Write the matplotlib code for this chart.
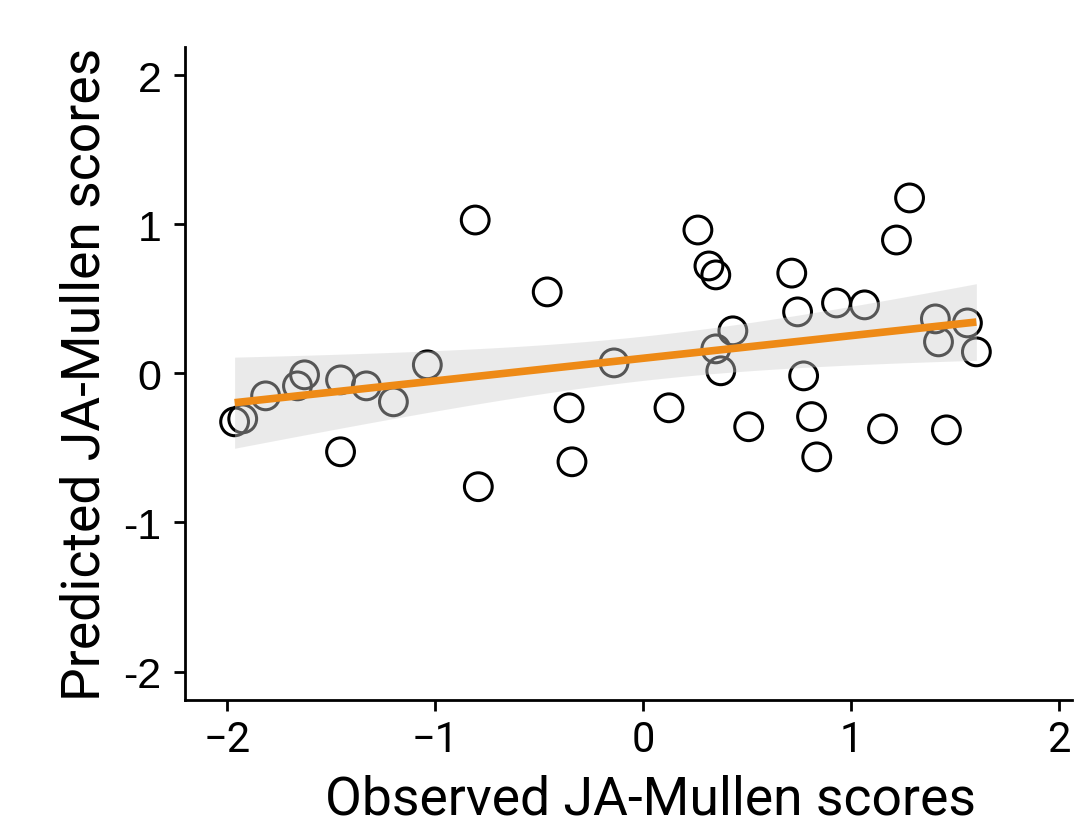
import numpy as np
import matplotlib
matplotlib.use('Agg')
from matplotlib import pyplot as plt

# Observed vs predicted JA-Mullen scores
observed = [-1.962, -1.923, -1.813, -1.626, -1.660, -1.453, -1.453, -1.329, -1.199, -1.036,
            -0.806, -0.791, -0.460, -0.355, -0.341, -0.139, 0.125, 0.264, 0.317, 0.350,
            0.350, 0.432, 0.374, 0.508, 0.715, 0.743, 0.772, 0.810, 0.835, 0.930,
            1.065, 1.151, 1.218, 1.281, 1.458, 1.405, 1.420, 1.559, 1.602]
predicted = [-0.325, -0.305, -0.151, -0.010, -0.084, -0.044, -0.526, -0.084, -0.191, 0.057,
             1.028, -0.760, 0.546, -0.231, -0.593, 0.070, -0.231, 0.961, 0.720, 0.660,
             0.164, 0.285, 0.017, -0.358, 0.672, 0.412, -0.017, -0.290, -0.560, 0.472,
             0.459, -0.372, 0.894, 1.176, -0.379, 0.365, 0.211, 0.338, 0.144]
ticks = [-2, -1, 0, 1, 2]

x = np.array(observed)
y = np.array(predicted)

# linear fit with 95% confidence band (like geom_smooth(method='lm'))
n = len(x)
slope, intercept = np.polyfit(x, y, 1)
resid = y - (slope * x + intercept)
s = np.sqrt(np.sum(resid ** 2) / (n - 2))
xx = np.linspace(x.min(), x.max(), 100)
yy = slope * xx + intercept
se = s * np.sqrt(1 / n + (xx - x.mean()) ** 2 / np.sum((x - x.mean()) ** 2))
tcrit = 2.026
lo, hi = yy - tcrit * se, yy + tcrit * se

fig = plt.figure(figsize=(10.76, 8.28), dpi=100)
ax = fig.add_axes([0.172, 0.1534, 0.824, 0.789])

ax.scatter(x, y, s=400, facecolors='none', edgecolors='black', linewidths=2.2, zorder=2)
ax.fill_between(xx, lo, hi, color='#CFCFCF', alpha=0.42, linewidth=0, zorder=3)
ax.plot(xx, yy, color='#EE8A16', linewidth=5.5, solid_capstyle='butt', zorder=4)

ax.set_xlim(-2.2, 2.06)
ax.set_ylim(-2.19, 2.19)
ax.set_xticks(ticks)
ax.set_xticklabels(['\u2212' + str(abs(t)) if t < 0 else str(t) for t in ticks],
                   family=['Roboto', 'DejaVu Sans'], fontsize=30)
ax.set_yticks(ticks)
ax.set_yticklabels([str(t) for t in ticks], family=['Liberation Sans', 'DejaVu Sans'], fontsize=31)

for side in ['top', 'right']:
    ax.spines[side].set_visible(False)
for side in ['left', 'bottom']:
    ax.spines[side].set_linewidth(2.0)
ax.tick_params(width=2.0, length=8, colors='black')
ax.tick_params(axis='x', pad=6)
ax.tick_params(axis='y', pad=9)

ax.set_xlabel('Observed JA-Mullen scores', family=['Roboto', 'DejaVu Sans'], fontsize=38.5)
ax.xaxis.set_label_coords(0.525, -0.113)
ax.set_ylabel('Predicted JA-Mullen scores', family=['Roboto', 'DejaVu Sans'],
              fontsize=38.5, labelpad=9)

fig.savefig('out.png', dpi=100)
